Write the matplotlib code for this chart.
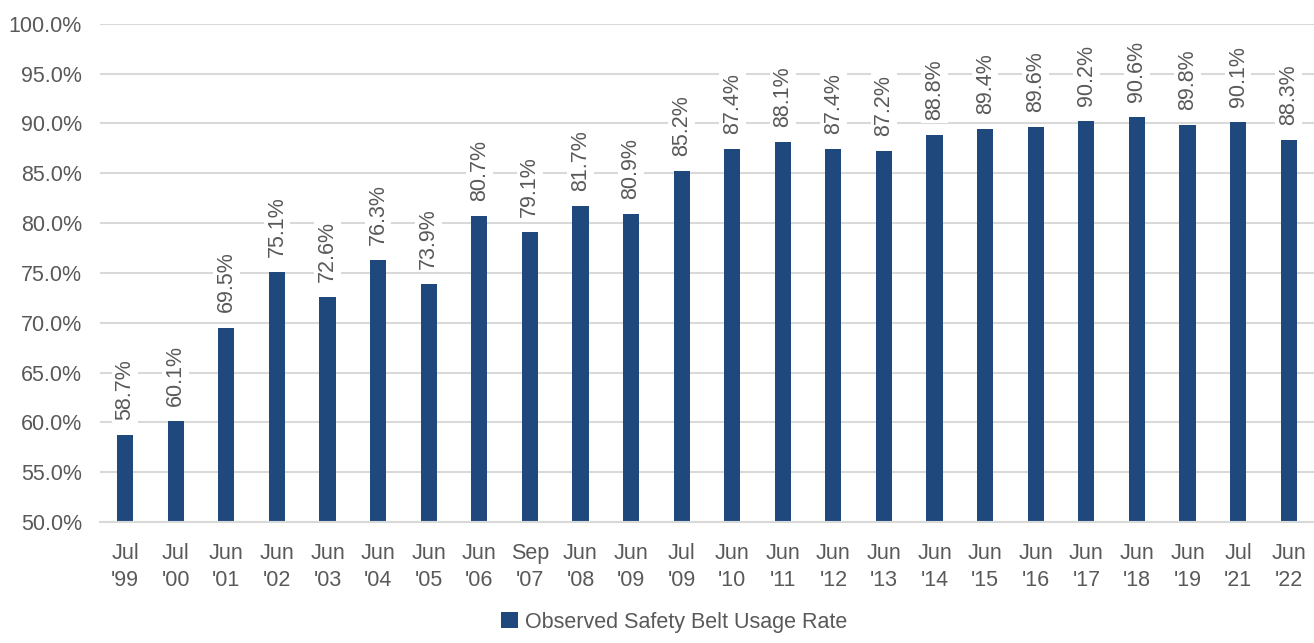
import matplotlib.pyplot as plt
from matplotlib.ticker import FuncFormatter

plt.rcParams['font.family'] = ['Liberation Sans Narrow', 'Liberation Sans', 'DejaVu Sans']

# survey dates and observed usage rates
periods = ["Jul\n'99", "Jul\n'00", "Jun\n'01", "Jun\n'02", "Jun\n'03", "Jun\n'04",
           "Jun\n'05", "Jun\n'06", "Sep\n'07", "Jun\n'08", "Jun\n'09", "Jul\n'09",
           "Jun\n'10", "Jun\n'11", "Jun\n'12", "Jun\n'13", "Jun\n'14", "Jun\n'15",
           "Jun\n'16", "Jun\n'17", "Jun\n'18", "Jun\n'19", "Jul\n'21", "Jun\n'22"]
usage = [58.7, 60.1, 69.5, 75.1, 72.6, 76.3, 73.9, 80.7, 79.1, 81.7, 80.9, 85.2,
         87.4, 88.1, 87.4, 87.2, 88.8, 89.4, 89.6, 90.2, 90.6, 89.8, 90.1, 88.3]

txt = '#595959'
bar_col = '#1f497d'

fig = plt.figure(figsize=(13.14, 6.43), dpi=100)
ax = fig.add_axes([0.076, 0.188, 0.924, 0.775])

x = range(len(usage))
bars = ax.bar(x, usage, width=0.32, color=bar_col, label='Observed Safety Belt Usage Rate',
              zorder=2)

for i, v in zip(x, usage):
    ax.annotate(f'{v:.1f}%', (i, v), xytext=(0, 11), textcoords='offset points',
                rotation=90, ha='center', va='bottom', fontsize=15.5, color=txt,
                bbox=dict(facecolor='white', edgecolor='none', pad=2), zorder=3)

ax.set_ylim(50, 100)
ax.set_xlim(-0.5, len(usage) - 0.5)
ax.set_yticks(range(50, 101, 5))
ax.yaxis.set_major_formatter(FuncFormatter(lambda v, p: f'{v:.1f}%'))
ax.set_xticks(list(x))
ax.set_xticklabels(periods, linespacing=1.4)
ax.tick_params(axis='both', length=0, labelsize=15.5, labelcolor=txt)
ax.tick_params(axis='x', pad=15)
ax.tick_params(axis='y', pad=13)

ax.grid(axis='y', color='#d9d9d9', lw=1.5, zorder=0)
ax.set_axisbelow(True)
for s in ['top', 'right', 'left']:
    ax.spines[s].set_visible(False)
ax.spines['bottom'].set_color('#d9d9d9')
ax.spines['bottom'].set_linewidth(1.5)

fig.legend(handles=[bars], loc='lower center', bbox_to_anchor=(0.513, -0.014), frameon=False,
           fontsize=15.5, labelcolor=txt, handlelength=0.8, handleheight=0.8, handletextpad=0.3)

fig.savefig('out.png', dpi=100)
